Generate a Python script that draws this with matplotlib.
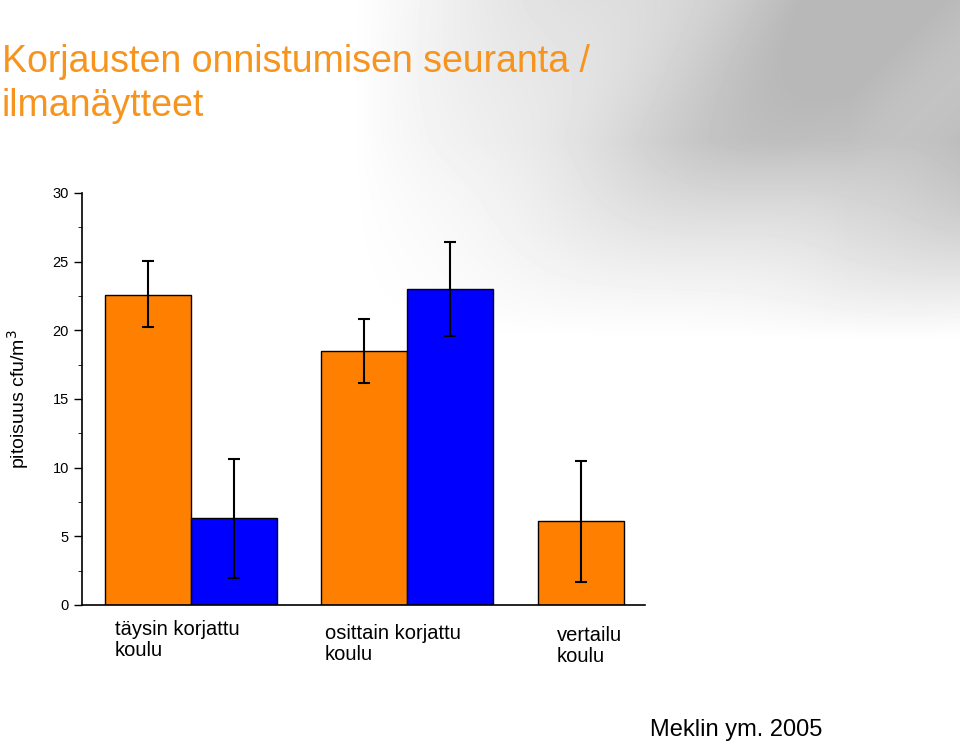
import numpy as np
import matplotlib.pyplot as plt

plt.rcParams["font.family"] = "Liberation Sans"

# data
groups = ["täysin korjattu\nkoulu", "osittain korjattu\nkoulu", "vertailu\nkoulu"]
orange_vals = [22.6, 18.5, 6.1]
orange_err_lo = [20.25, 16.2, 1.7]
orange_err_hi = [25.05, 20.8, 10.5]
blue_vals = [6.3, 23.0]
blue_err_lo = [2.0, 19.6]
blue_err_hi = [10.6, 26.4]
yticks = [0, 5, 10, 15, 20, 25, 30]

fig = plt.figure(figsize=(9.6, 7.48), dpi=100)

# background grey swoosh, top right
bg = fig.add_axes([0, 0, 1, 1], zorder=0)
yy, xx = np.mgrid[0:748, 0:960]
shade = np.clip((xx - 350) / 500, 0, 1) * np.clip((340 - yy) / 200, 0, 1)
shade = np.clip(shade + 0.15 * np.sin((xx + yy) / 60.0) * shade, 0, 1)
img = 1 - 0.28 * shade
bg.imshow(img, cmap="gray", vmin=0, vmax=1, aspect="auto")
bg.axis("off")

ax = fig.add_axes([82 / 960, 143 / 748, 563 / 960, 412 / 748], zorder=1)
ax.patch.set_alpha(0)

orange_x = [0.767, 3.28, 5.80]
blue_x = [1.767, 4.28]
oerr = [np.subtract(orange_vals, orange_err_lo), np.subtract(orange_err_hi, orange_vals)]
berr = [np.subtract(blue_vals, blue_err_lo), np.subtract(blue_err_hi, blue_vals)]
ax.bar(orange_x, orange_vals, width=1.0, color="#FF8000", edgecolor="black", linewidth=1,
       yerr=oerr, error_kw=dict(ecolor="black", elinewidth=1.5, capsize=4, capthick=1.5))
ax.bar(blue_x, blue_vals, width=1.0, color="#0000FF", edgecolor="black", linewidth=1,
       yerr=berr, error_kw=dict(ecolor="black", elinewidth=1.5, capsize=4, capthick=1.5))

ax.set_xlim(0, 6.55)
ax.set_ylim(0, 30)
ax.set_yticks(yticks)
ax.set_yticks(np.arange(2.5, 30, 5), minor=True)
ax.tick_params(axis="y", labelsize=10.5, length=6, width=1)
ax.tick_params(axis="y", which="minor", length=3)
ax.set_xticks([])
ax.spines["top"].set_visible(False)
ax.spines["right"].set_visible(False)
ax.spines["left"].set_linewidth(1.2)
ax.spines["bottom"].set_linewidth(1.2)
ax.set_ylabel("pitoisuus cfu/m$^3$", fontsize=14)
ax.yaxis.set_label_coords(-0.09, 0.5)

label_px = [(115, 620), (325, 624), (557, 626)]
for text, (px, py) in zip(groups, label_px):
    fig.text(px / 960, 1 - py / 748, text, fontsize=14.5, va="top", ha="left", linespacing=1.1)

fig.text(2 / 960, 1 - 84 / 748, "Korjausten onnistumisen seuranta /\nilmanäytteet", fontsize=27,
         color="#F7941D", va="center", ha="left", linespacing=1.25)
fig.text(650 / 960, 1 - 730 / 748, "Meklin ym. 2005", fontsize=17, va="center", ha="left")

fig.savefig("out.png", dpi=100)
